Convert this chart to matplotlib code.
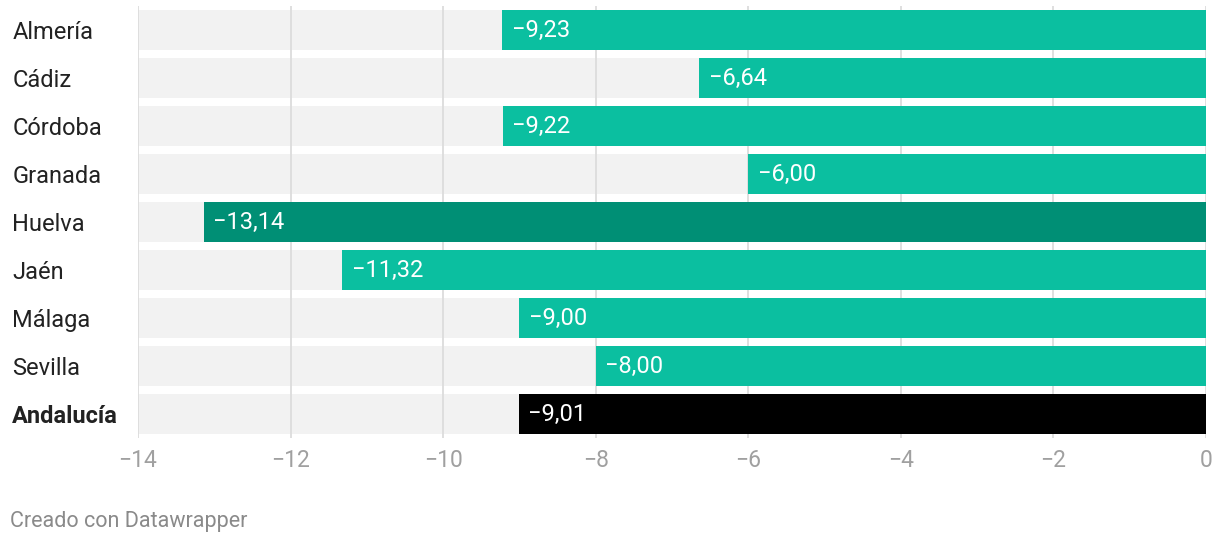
import matplotlib
matplotlib.use("Agg")
import matplotlib.pyplot as plt
from matplotlib.ticker import FuncFormatter

plt.rcParams["font.family"] = ["Roboto", "DejaVu Sans"]

provincias = ["Almería", "Cádiz", "Córdoba", "Granada", "Huelva",
              "Jaén", "Málaga", "Sevilla", "Andalucía"]
valores = [-9.23, -6.64, -9.22, -6.00, -13.14, -11.32, -9.00, -8.00, -9.01]
colores = ["#0bbfa0", "#0bbfa0", "#0bbfa0", "#0bbfa0", "#008f75",
           "#0bbfa0", "#0bbfa0", "#0bbfa0", "#000000"]
xticks = [-14, -12, -10, -8, -6, -4, -2, 0]

fig = plt.figure(figsize=(12.2, 5.46), dpi=100)
ax = fig.add_axes([138 / 1220, 1 - 438 / 546, 1068 / 1220, 432 / 546])

pos = list(range(len(provincias)))
# fondo gris de cada fila
ax.barh(pos, [-14] * len(pos), height=0.833, color="#f2f2f2", zorder=1)
for x in xticks:
    ax.axvline(x, color="#dcdcdc", lw=1.3, zorder=2)
ax.barh(pos, valores, height=0.833, color=colores, zorder=3)

for y, v in zip(pos, valores):
    txt = f"{v:.2f}".replace(".", ",").replace("-", "\u2212")
    ax.annotate(txt, (v, y), xytext=(7, 0), textcoords="offset points",
                ha="left", va="center", color="white", fontsize=17, zorder=4)

ax.set_xlim(-14, 0)
ax.set_ylim(8.5, -0.5)
ax.set_xticks(xticks)
ax.xaxis.set_major_formatter(FuncFormatter(lambda x, _: f"{x:.0f}".replace("-", "\u2212")))
ax.tick_params(axis="x", length=0, pad=8, labelsize=16.5, labelcolor="#a0a0a0")
ax.set_yticks(pos)
ax.set_yticklabels(provincias)
ax.tick_params(axis="y", length=0, pad=90.5, labelsize=17, labelcolor="#222222")
for lab in ax.get_yticklabels():
    lab.set_ha("left")
ax.get_yticklabels()[-1].set_fontweight("bold")
for s in ax.spines.values():
    s.set_visible(False)

fig.text(10 / 1220, 1 - 522 / 546, "Creado con Datawrapper", color="#8a8a8a",
         fontsize=15.5, va="center", ha="left")

fig.savefig("out.png", dpi=100)
